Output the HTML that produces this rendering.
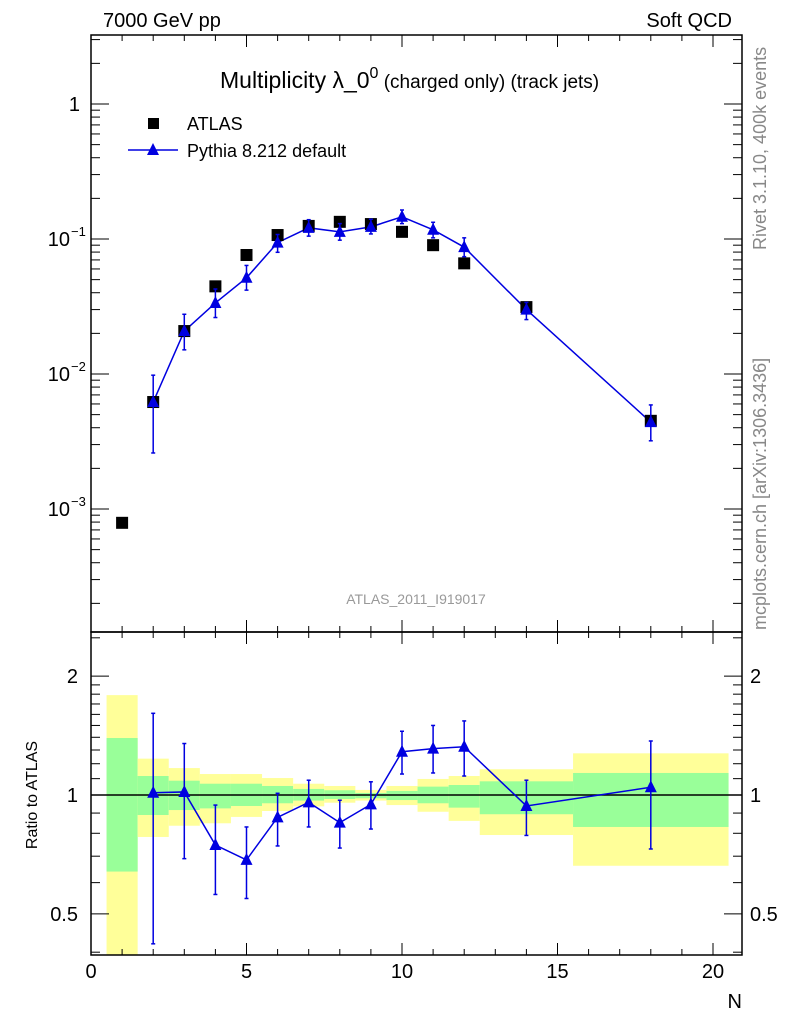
<!DOCTYPE html>
<html><head><meta charset="utf-8"><style>
body{margin:0;background:#fff;font-family:"Liberation Sans",sans-serif}
svg text{font-family:"Liberation Sans",sans-serif}
</style></head><body>
<svg id="c" width="786" height="1024" xmlns="http://www.w3.org/2000/svg"></svg>
<script>
const N=[1,2,3,4,5,6,7,8,9,10,11,12,14,18];
const atlas=[7.9e-4,6.2e-3,0.0208,0.0446,0.0761,0.107,0.125,0.134,0.129,0.113,0.090,0.066,0.0313,0.0045];
const pyN=[2,3,4,5,6,7,8,9,10,11,12,14,18];
const pyVal=[0.0062,0.0208,0.0336,0.0516,0.094,0.121,0.113,0.123,0.146,0.117,0.087,0.030,0.0044];
const pyHi=[0.0098,0.0277,0.0426,0.0637,0.108,0.139,0.130,0.140,0.164,0.133,0.102,0.0339,0.0059];
const pyLo=[0.0026,0.0151,0.0262,0.0418,0.0797,0.105,0.098,0.109,0.130,0.102,0.074,0.0253,0.0032];
const ratio=[1.013,1.018,0.747,0.685,0.878,0.958,0.851,0.947,1.287,1.31,1.325,0.938,1.046];
const ratioHi=[1.61,1.35,0.943,0.83,1.01,1.09,0.97,1.08,1.45,1.50,1.54,1.09,1.37];
const ratioLo=[0.42,0.69,0.56,0.547,0.743,0.83,0.734,0.82,1.13,1.137,1.117,0.79,0.73];
const binEdges=[0.5,1.5,2.5,3.5,4.5,5.5,6.5,7.5,8.5,9.5,10.5,11.5,12.5,15.5,20.5];
const yelHi=[1.79,1.236,1.17,1.13,1.13,1.104,1.068,1.054,1.03,1.054,1.098,1.117,1.162,1.275];
const yelLo=[0.3,0.783,0.836,0.848,0.88,0.911,0.936,0.956,0.968,0.943,0.907,0.86,0.792,0.662];
const grnHi=[1.394,1.117,1.087,1.068,1.068,1.054,1.036,1.028,1.012,1.024,1.05,1.06,1.083,1.137];
const grnLo=[0.64,0.89,0.916,0.925,0.938,0.953,0.968,0.977,0.981,0.971,0.953,0.929,0.894,0.83];

const L=91,R=742,T=35,M=632,B=955;
const X=v=>L+v*31.1;
const Y=v=>104-135*Math.log10(v);
const RY=v=>795-395*Math.log10(v);
const svg=document.getElementById('c');
const NS='http://www.w3.org/2000/svg';
function mk(tag,attrs,parent){const e=document.createElementNS(NS,tag);for(const k in attrs)e.setAttribute(k,attrs[k]);(parent||svg).appendChild(e);return e;}
function txt(s,x,y,attrs){const e=mk('text',Object.assign({x:x,y:y,'font-size':18},attrs||{}));e.textContent=s;return e;}

const clipR=mk('clipPath',{id:'cr'});mk('rect',{x:L,y:M,width:R-L,height:B-M},clipR);
const gb=mk('g',{'clip-path':'url(#cr)'});


for(let i=0;i<yelHi.length;i++){
  const x0=X(binEdges[i]),x1=X(binEdges[i+1]);
  const y1=mk('rect',{x:x0,y:RY(yelHi[i]),width:x1-x0,height:RY(yelLo[i])-RY(yelHi[i]),fill:'#ffff99'},gb);
  
  
  const g1=mk('rect',{x:x0,y:RY(grnHi[i]),width:x1-x0,height:RY(grnLo[i])-RY(grnHi[i]),fill:'#99ff99'},gb);
  
  
}
mk('line',{x1:L,x2:R,y1:RY(1),y2:RY(1),stroke:'#000','stroke-width':1.5});

const f1=mk('rect',{x:L,y:T,width:R-L,height:M-T,fill:'none',stroke:'#000','stroke-width':1.5});


const f2=mk('rect',{x:L,y:M,width:R-L,height:B-M,fill:'none',stroke:'#000','stroke-width':1.5});



for(let v=0;v<=20;v++){
  const x=X(v),len=v%5==0?12:6;
  for(const [a,b] of [[T,1],[M,-1],[M,1],[B,-1]]) mk('line',{x1:x,x2:x,y1:a,y2:a+b*len,stroke:'#000'});
}
[0,5,10,15,20].forEach(v=>{const t=txt(String(v),X(v),978,{'text-anchor':'middle','font-size':20});

});
for(let d=-4;d<=0;d++){for(let m=1;m<10;m++){const v=m*Math.pow(10,d),y=Y(v);if(y<T||y>M)continue;const len=m==1?18:9;
 mk('line',{x1:L,x2:L+len,y1:y,y2:y,stroke:'#000'});mk('line',{x1:R,x2:R-len,y1:y,y2:y,stroke:'#000'});}}
const yl=[[1,'1',''],[0.1,'10','−1'],[0.01,'10','−2'],[0.001,'10','−3']];
yl.forEach(([v,b,e])=>{const t=txt(b,e?70:80,Y(v)+7,{'text-anchor':'end','font-size':20});
 
 if(e){txt(e,71,Y(v)-3,{'font-size':13});}});
const rt=[0.4,0.5,0.6,0.7,0.8,0.9,1,1.1,1.2,1.3,1.4,1.5,1.6,1.7,1.8,1.9,2,2.5];
rt.forEach(v=>{const y=RY(v);if(y<M||y>B)return;const len=(v==0.5||v==1||v==2)?18:9;
 mk('line',{x1:L,x2:L+len,y1:y,y2:y,stroke:'#000'});mk('line',{x1:R,x2:R-len,y1:y,y2:y,stroke:'#000'});});
[[2,'2'],[1,'1'],[0.5,'0.5']].forEach(([v,s])=>{txt(s,78,RY(v)+7,{'text-anchor':'end','font-size':20});txt(s,750,RY(v)+7,{'font-size':20});});

let pts=pyN.map((n,i)=>X(n)+','+Y(pyVal[i])).join(' ');
const pl=mk('polyline',{points:pts,fill:'none',stroke:'#0000e0','stroke-width':1.5});


function ebar(x,y1,y2){mk('line',{x1:x,x2:x,y1:y1,y2:y2,stroke:'#0000e0','stroke-width':1.5});
 mk('line',{x1:x-2,x2:x+2,y1:y1,y2:y1,stroke:'#0000e0','stroke-width':1.5});mk('line',{x1:x-2,x2:x+2,y1:y2,y2:y2,stroke:'#0000e0','stroke-width':1.5});}
function tri(x,y,name){const p=mk('polygon',{points:`${x},${y-7} ${x-6},${y+5} ${x+6},${y+5}`,fill:'#0000e0'});
 }
N.forEach((n,i)=>{const r=mk('rect',{x:X(n)-6,y:Y(atlas[i])-6,width:12,height:12,fill:'#000'});
 });
pyN.forEach((n,i)=>{ebar(X(n),Y(pyHi[i]),Y(pyLo[i]));tri(X(n),Y(pyVal[i]),'pythia-point');});

const clip2=mk('g',{'clip-path':'url(#cr)'});
mk('polyline',{points:pyN.map((n,i)=>X(n)+','+RY(ratio[i])).join(' '),fill:'none',stroke:'#0000e0','stroke-width':1.5},clip2);
pyN.forEach((n,i)=>{ebar(X(n),RY(ratioHi[i]),RY(ratioLo[i]));tri(X(n),RY(ratio[i]),'ratio-point');});

let t;
t=txt('7000 GeV pp',103,27,{'font-size':20});
t=txt('Soft QCD',732,27,{'font-size':20,'text-anchor':'end'});
t=mk('text',{x:220,y:88,'font-size':23});t.innerHTML='Multiplicity λ_0<tspan dy="-10" font-size="16">0</tspan><tspan dy="10" font-size="19"> (charged only) (track jets)</tspan>';

mk('rect',{x:148,y:118,width:11,height:11,fill:'#000'});
txt('ATLAS',187,130,{'font-size':18});
mk('line',{x1:128,x2:178,y1:150,y2:150,stroke:'#0000e0','stroke-width':1.5});
tri(153,150,'legend-pythia-marker');
txt('Pythia 8.212 default',187,157,{'font-size':18});
t=txt('ATLAS_2011_I919017',416,604,{'font-size':14,fill:'#999','text-anchor':'middle'});
t=txt('Rivet 3.1.10,  400k events',0,0,{'font-size':18,fill:'#888',transform:'translate(766,250) rotate(-90)'});
t=txt('mcplots.cern.ch [arXiv:1306.3436]',0,0,{'font-size':18,fill:'#888',transform:'translate(766,630) rotate(-90)'});
t=txt('Ratio to ATLAS',0,0,{'font-size':16,'text-anchor':'middle',transform:'translate(37,795) rotate(-90)'});
t=txt('N',742,1008,{'font-size':20,'text-anchor':'end'});
</script>
</body></html>
